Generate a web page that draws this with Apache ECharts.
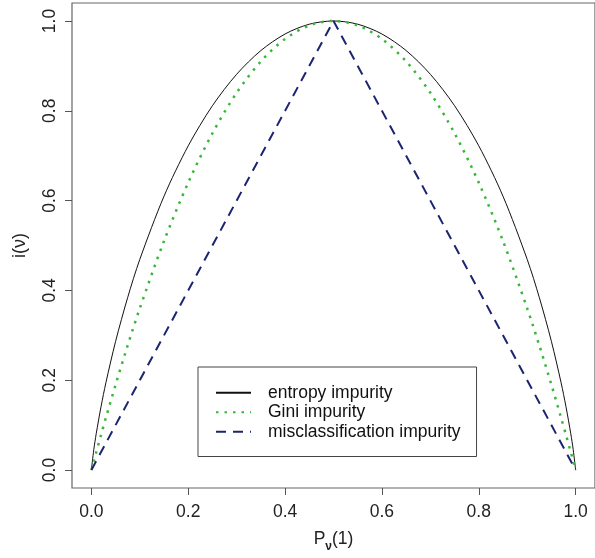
<!DOCTYPE html>
<html>
<head>
<meta charset="utf-8">
<script src="https://cdn.jsdelivr.net/npm/echarts@6/dist/echarts.min.js"></script>
<style>
html,body{margin:0;padding:0;background:#fff;}
#c{width:595px;height:558px;}
</style>
</head>
<body>
<div id="c"></div>
<script>
// proportion of class 1 at the node
var pValues = [0, 0.005, 0.01, 0.02, 0.03, 0.05, 0.075, 0.1, 0.15, 0.2, 0.25, 0.3, 0.35, 0.4, 0.45, 0.5,
               0.55, 0.6, 0.65, 0.7, 0.75, 0.8, 0.85, 0.9, 0.925, 0.95, 0.97, 0.98, 0.99, 0.995, 1];
var entropy = [0, 0.0454, 0.0808, 0.1414, 0.1944, 0.2864, 0.3843, 0.4690, 0.6098, 0.7219, 0.8113, 0.8813, 0.9341, 0.9710, 0.9928, 1,
               0.9928, 0.9710, 0.9341, 0.8813, 0.8113, 0.7219, 0.6098, 0.4690, 0.3843, 0.2864, 0.1944, 0.1414, 0.0808, 0.0454, 0];
var gini = [0, 0.0199, 0.0396, 0.0784, 0.1164, 0.19, 0.2775, 0.36, 0.51, 0.64, 0.75, 0.84, 0.91, 0.96, 0.99, 1,
            0.99, 0.96, 0.91, 0.84, 0.75, 0.64, 0.51, 0.36, 0.2775, 0.19, 0.1164, 0.0784, 0.0396, 0.0199, 0];
var misclassX = [0, 0.5, 1];
var misclass = [0, 1, 0];
var tickValues = [0, 0.2, 0.4, 0.6, 0.8, 1.0];
var seriesNames = ['entropy impurity', 'Gini impurity', 'misclassification impurity'];

function pairs(xs, ys) { return xs.map(function (x, i) { return [x, ys[i]]; }); }

var font = '"Liberation Sans", Arial, sans-serif';
var chart = echarts.init(document.getElementById('c'), null, {renderer: 'canvas'});
chart.setOption({
  animation: false,
  backgroundColor: '#fff',
  grid: {left: 72, top: 3, width: 531, height: 486, show: true, borderColor: '#666', borderWidth: 1.2, backgroundColor: 'transparent'},
  xAxis: {
    type: 'value', min: -0.04, max: 1.04,
    name: 'P{sub|ν}(1)', nameLocation: 'middle', nameGap: 38,
    nameTextStyle: {fontFamily: font, fontSize: 17.5, color: '#222',
      rich: {sub: {fontFamily: font, fontSize: 12, fontWeight: 'bold', color: '#222', verticalAlign: 'bottom', padding: [15, 0, 0, 0]}}},
    axisLine: {show: false, onZero: false},
    axisTick: {show: true, inside: false, length: 7, customValues: tickValues, lineStyle: {color: '#555', width: 1}},
    axisLabel: {customValues: tickValues, margin: 15, fontFamily: font, fontSize: 17.5, color: '#222',
      formatter: function (v) { return v.toFixed(1); }},
    splitLine: {show: false}
  },
  yAxis: {
    type: 'value', min: -0.04, max: 1.04,
    name: 'i(ν)', nameLocation: 'middle', nameGap: 43, nameRotate: 90,
    nameTextStyle: {fontFamily: font, fontSize: 18, color: '#222'},
    axisLine: {show: false, onZero: false},
    axisTick: {show: true, inside: false, length: 7, customValues: tickValues, lineStyle: {color: '#555', width: 1}},
    axisLabel: {customValues: tickValues, margin: 13, rotate: 90, fontFamily: font, fontSize: 17.5, color: '#222',
      formatter: function (v) { return v.toFixed(1); }},
    splitLine: {show: false}
  },
  legend: {
    orient: 'vertical', left: 198, top: 367,
    data: seriesNames,
    padding: [16, 16, 15, 17],
    itemWidth: 35, itemHeight: 14, itemGap: 0,
    itemStyle: {opacity: 0},
    borderColor: '#444', borderWidth: 1, backgroundColor: '#fff',
    textStyle: {fontFamily: font, fontSize: 17.5, color: '#111', padding: [0, 0, 0, 12], lineHeight: 19.5}
  },
  series: [
    {name: seriesNames[0], type: 'line', data: pairs(pValues, entropy), symbol: 'none', smooth: 0.3,
     lineStyle: {color: '#111', width: 1}, itemStyle: {color: '#111'}},
    {name: seriesNames[1], type: 'line', data: pairs(pValues, gini), symbol: 'none', smooth: 0.3,
     lineStyle: {color: '#36b836', width: 2.5, type: [2.5, 6]}, itemStyle: {color: '#36b836'}},
    {name: seriesNames[2], type: 'line', data: pairs(misclassX, misclass), symbol: 'none',
     lineStyle: {color: '#1c2470', width: 2, type: [10, 7]}, itemStyle: {color: '#1c2470'}}
  ]
});
</script>
</body>
</html>
